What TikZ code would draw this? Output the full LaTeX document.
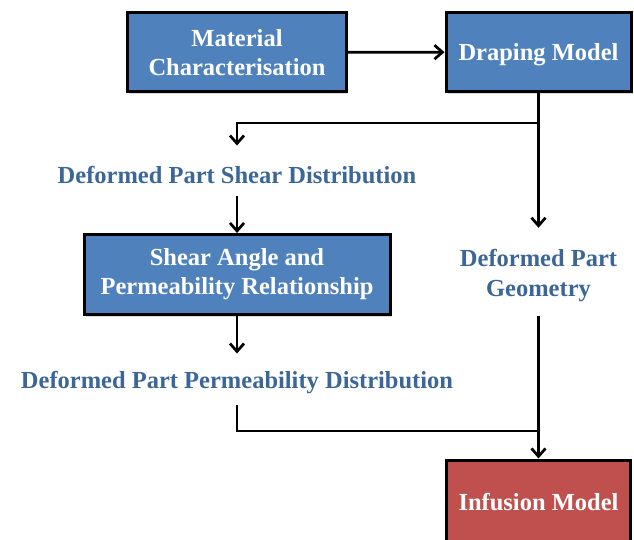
\documentclass[tikz,border=0pt]{standalone}
\usepackage{fontspec}
\setmainfont{Liberation Serif}
\usetikzlibrary{arrows.meta,shadows}
\definecolor{boxblue}{HTML}{4F81BD}
\definecolor{boxred}{HTML}{C0504D}
\definecolor{txtblue}{HTML}{3B6698}
\begin{document}
\begin{tikzpicture}[x=1pt,y=-1pt,
  box/.style={draw=black, line width=3pt, text=white,
    font=\fontsize{24.5}{29}\selectfont\bfseries, align=center, inner sep=0pt,
    drop shadow={shadow xshift=1.5pt, shadow yshift=-2.5pt, opacity=0.3}},
  lbl/.style={text=txtblue, font=\fontsize{24.5}{29.5}\selectfont\bfseries,
    align=center, inner sep=0pt},
  arr/.style={line width=2.7pt, -{Straight Barb[length=8pt,width=14pt,line width=2.7pt]}},
  ln/.style={line width=2.7pt}]
\useasboundingbox (0,0) rectangle (634,540);
\clip (0,0) rectangle (634,540);
% boxes
\node[box, fill=boxblue, minimum width=219pt, minimum height=79pt] (mc) at (237,52.5) {Material\\Characterisation};
\node[box, fill=boxblue, minimum width=185pt, minimum height=79pt, text depth=0pt] (dm) at (538.5,52) {Draping Model};
\node[box, fill=boxblue, minimum width=306pt, minimum height=80pt] (sa) at (237,274.5) {Shear Angle and\\Permeability Relationship};
\node[box, fill=boxred, minimum width=184pt, minimum height=84pt, text depth=0pt] (im) at (538.5,502) {Infusion Model};
% labels
\node[lbl, anchor=base] (dpsd) at (237,183) {Deformed Part Shear Distribution};
\node[lbl] (dpg) at (538.5,275.5) {Deformed Part\\Geometry};
\node[lbl, anchor=base] (dppd) at (237,388) {Deformed Part Permeability Distribution};
% junctions
\coordinate (jt) at (538.5,123);
\coordinate (jb) at (538.5,431);
% connectors
\draw[arr] (mc) -- (dm);
\draw[arr, shorten >=21.5pt] (dm.south) -- (dpg.north);
\draw[arr, shorten >=20pt] (jt) -| (dpsd.north);
\draw[arr, shorten <=12.5pt] (dpsd.south) -- (sa.north);
\draw[arr, shorten >=17pt] (sa.south) -- (dppd.north);
\draw[ln, shorten <=12pt] (dppd.south) |- (jb);
\draw[arr, shorten <=14.5pt] (dpg.south) -- (im.north);
\end{tikzpicture}
\end{document}
